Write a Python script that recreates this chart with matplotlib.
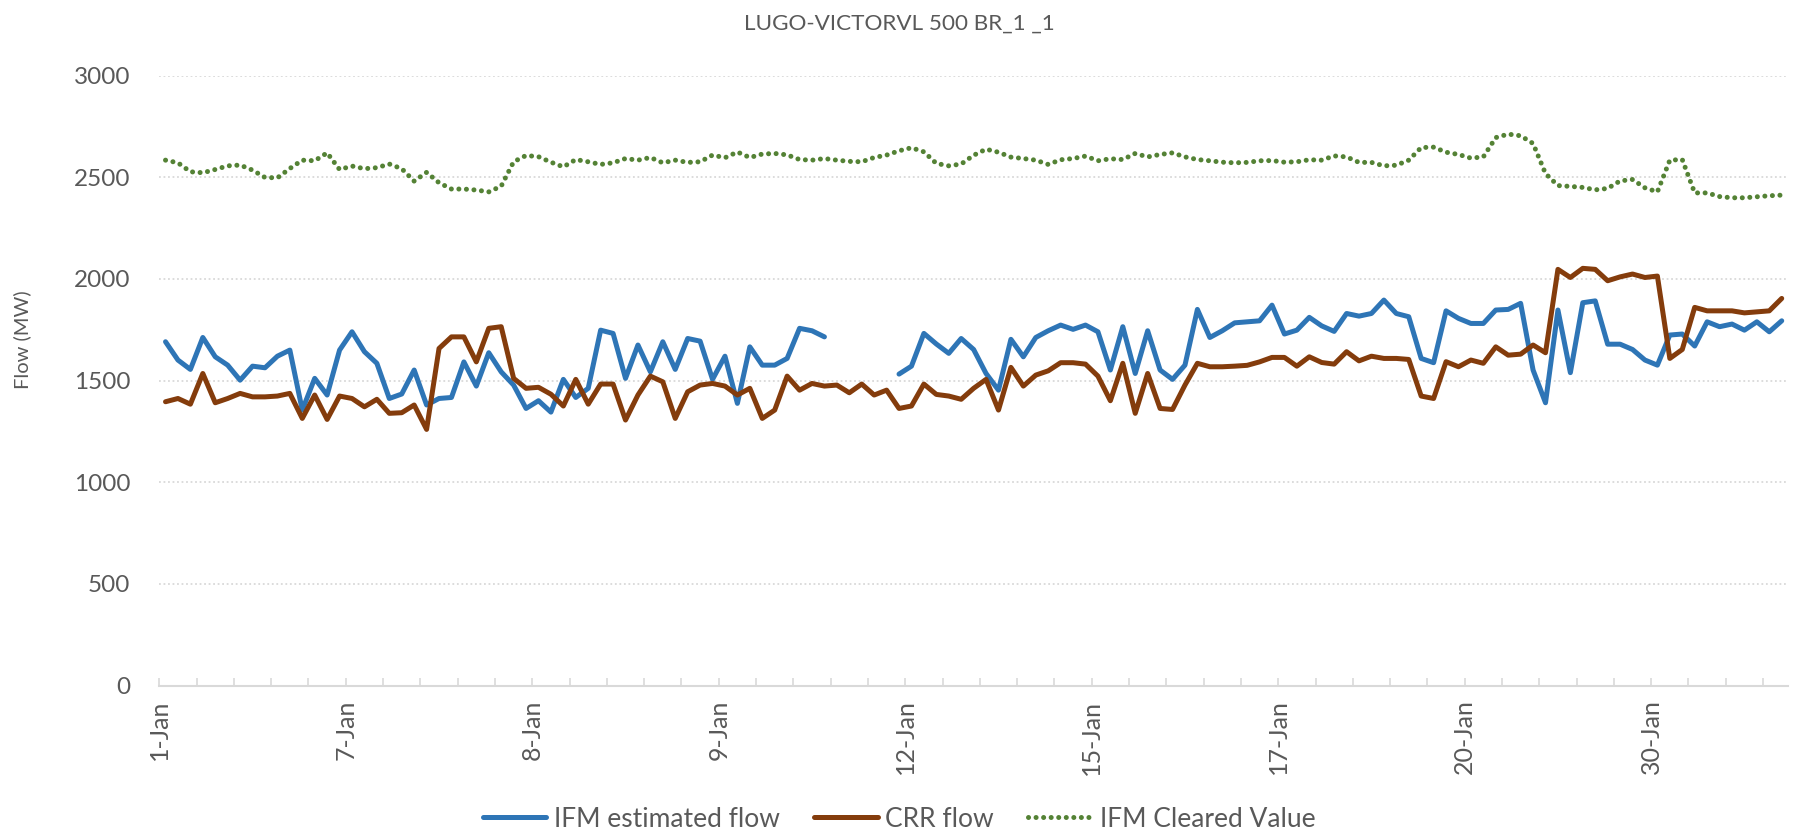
import numpy as np
import matplotlib
matplotlib.use("Agg")
import matplotlib.pyplot as plt

nan = np.nan
title = "LUGO-VICTORVL 500 BR_1 _1"
series_names = ["IFM estimated flow", "CRR flow", "IFM Cleared Value"]
tick_labels = ["1-Jan", "7-Jan", "8-Jan", "9-Jan", "12-Jan", "15-Jan", "17-Jan", "20-Jan", "30-Jan"]

ifm_flow = [
    1691, 1601, 1555, 1712, 1617, 1576, 1502, 1571, 1563, 1620,
    1650, 1355, 1511, 1429, 1650, 1740, 1642, 1585, 1412, 1434,
    1552, 1380, 1412, 1417, 1592, 1473, 1637, 1543, 1478, 1363,
    1401, 1345, 1506, 1417, 1462, 1748, 1732, 1511, 1675, 1543,
    1691, 1555, 1707, 1694, 1506, 1620, 1388, 1666, 1576, 1576,
    1609, 1757, 1745, 1715, nan, nan, nan, nan, nan, 1532,
    1571, 1732, 1680, 1634, 1707, 1653, 1535, 1453, 1703, 1617,
    1712, 1745, 1773, 1752, 1773, 1740, 1552, 1765, 1535, 1745,
    1552, 1506, 1576, 1850, 1712, 1745, 1784, 1789, 1794, 1871,
    1729, 1748, 1811, 1769, 1742, 1830, 1817, 1830, 1896, 1830,
    1814, 1609, 1588, 1843, 1806, 1781, 1781, 1847, 1850, 1880,
    1552, 1391, 1847, 1539, 1883, 1892, 1679, 1679, 1653, 1601,
    1576, 1724, 1729, 1670, 1789, 1765, 1778, 1748, 1789, 1740,
    1794,
]

crr_flow = [
    1396, 1412, 1384, 1535, 1391, 1412, 1437, 1420, 1420, 1424,
    1437, 1314, 1429, 1309, 1424, 1412, 1371, 1408, 1339, 1342,
    1380, 1260, 1658, 1715, 1715, 1592, 1757, 1765, 1511, 1462,
    1467, 1433, 1375, 1506, 1384, 1483, 1483, 1306, 1429, 1522,
    1494, 1314, 1445, 1478, 1486, 1473, 1429, 1462, 1314, 1355,
    1522, 1453, 1486, 1473, 1478, 1440, 1483, 1429, 1453, 1363,
    1375, 1483, 1432, 1424, 1408, 1462, 1506, 1355, 1565, 1473,
    1527, 1548, 1588, 1588, 1581, 1522, 1401, 1585, 1339, 1535,
    1363, 1358, 1478, 1585, 1568, 1568, 1571, 1575, 1592, 1614,
    1614, 1571, 1617, 1589, 1581, 1642, 1597, 1620, 1609, 1609,
    1604, 1424, 1412, 1593, 1568, 1601, 1585, 1666, 1625, 1630,
    1675, 1637, 2047, 2007, 2052, 2047, 1991, 2010, 2024, 2007,
    2014, 1609, 1653, 1860, 1843, 1843, 1843, 1833, 1838, 1843,
    1904,
]

ifm_cleared = [
    2584, 2571, 2527, 2522, 2538, 2556, 2560, 2535, 2499, 2497,
    2543, 2584, 2581, 2620, 2538, 2555, 2542, 2547, 2565, 2542,
    2481, 2524, 2473, 2442, 2442, 2437, 2428, 2456, 2576, 2607,
    2601, 2574, 2551, 2587, 2576, 2563, 2571, 2592, 2584, 2597,
    2571, 2584, 2573, 2576, 2609, 2596, 2624, 2597, 2614, 2617,
    2610, 2587, 2584, 2592, 2584, 2578, 2576, 2597, 2609, 2630,
    2645, 2625, 2568, 2556, 2565, 2608, 2638, 2623, 2599, 2592,
    2584, 2563, 2586, 2592, 2604, 2581, 2591, 2587, 2617, 2600,
    2612, 2620, 2600, 2587, 2581, 2574, 2571, 2573, 2581, 2582,
    2574, 2576, 2586, 2584, 2605, 2600, 2573, 2573, 2556, 2559,
    2584, 2646, 2648, 2623, 2612, 2594, 2600, 2695, 2712, 2704,
    2666, 2518, 2459, 2455, 2450, 2438, 2445, 2482, 2489, 2448,
    2428, 2584, 2587, 2423, 2423, 2405, 2399, 2399, 2404, 2409,
    2412,
]

FONT = ["Lato", "DejaVu Sans"]
plt.rcParams["font.family"] = FONT
text_color = "#595959"
grid_color = "#D9D9D9"

fig = plt.figure(figsize=(17.98, 8.35), dpi=100)
ax = fig.add_axes([0.0886, 0.1789, 0.9058, 0.7306])

n = len(ifm_flow)
x = np.arange(n)
ax.plot(x, ifm_flow, color="#2E75B6", lw=3.6, solid_joinstyle="round",
        solid_capstyle="round", label=series_names[0], zorder=3)
ax.plot(x, crr_flow, color="#843C0C", lw=3.6, solid_joinstyle="round",
        solid_capstyle="round", label=series_names[1], zorder=3)
ax.plot(x, ifm_cleared, color="#548235", lw=3.6, linestyle=(0, (0.01, 1.5)),
        dash_capstyle="round", label=series_names[2], zorder=3)

ax.set_xlim(-0.5, n - 0.5)
ax.set_ylim(0, 3000)
ax.set_yticks(np.arange(0, 3001, 500))
ax.yaxis.grid(True, color=grid_color, linestyle=(0, (1, 1.5)), linewidth=1.3)
ax.set_axisbelow(True)

ticks = np.arange(-0.5, n - 0.5, 3)
labels = []
for k in range(len(ticks)):
    if k % 5 == 0 and k // 5 < len(tick_labels):
        labels.append(tick_labels[k // 5])
    else:
        labels.append("")
ax.set_xticks(ticks)
ax.set_xticklabels(labels, rotation=90, fontsize=18, color=text_color)
ax.tick_params(axis="x", direction="in", length=6, width=1.2, color=grid_color, pad=10)
ax.tick_params(axis="y", length=0, pad=21, labelsize=17.5, labelcolor=text_color)

for s in ["top", "right", "left"]:
    ax.spines[s].set_visible(False)
ax.spines["bottom"].set_color(grid_color)
ax.spines["bottom"].set_linewidth(1.5)

ax.set_ylabel("Flow (MW)", fontsize=14.5, color=text_color)
ax.yaxis.set_label_coords(-0.0785, 0.567)
fig.text(0.5, 0.972, title, ha="center", va="center", fontsize=16.2, color=text_color)

leg = fig.legend(loc="center", bbox_to_anchor=(0.5, 0.019), ncol=3, frameon=False,
                 fontsize=19, handlelength=2.4, handletextpad=0.3, columnspacing=1.3)
for t in leg.get_texts():
    t.set_color(text_color)

fig.savefig("out.png", dpi=100)
